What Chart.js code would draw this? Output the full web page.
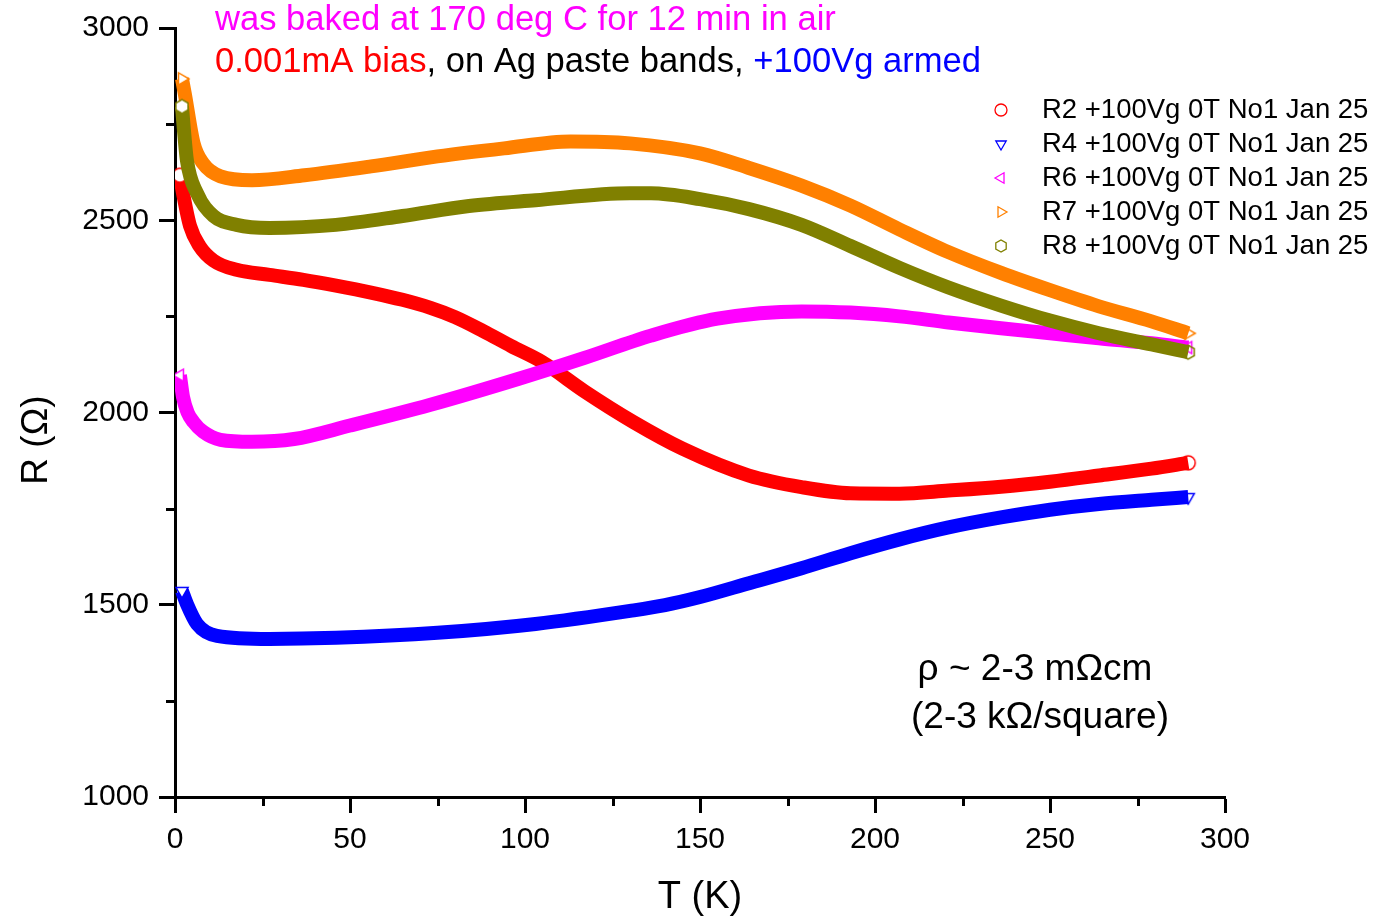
<!DOCTYPE html>
<html>
<head>
<meta charset="utf-8">
<script src="https://cdn.jsdelivr.net/npm/chart.js@4.4.1/dist/chart.umd.min.js"></script>
<style>
  html, body { margin: 0; background: #fff; }
  canvas { display: block; }
</style>
</head>
<body>
<canvas id="rt" width="1378" height="920"></canvas>
<script>
// values (T in K, R in ohm)
const labels = [
  'R2 +100Vg 0T No1 Jan 25',
  'R4 +100Vg 0T No1 Jan 25',
  'R6 +100Vg 0T No1 Jan 25',
  'R7 +100Vg 0T No1 Jan 25',
  'R8 +100Vg 0T No1 Jan 25'
];

const tR2 = [1.4, 2.3, 4.3, 7, 11, 17.6, 27, 36.7, 46, 56, 65, 73, 80, 88, 96, 105, 117, 131, 145, 164, 179, 193, 207, 221, 236, 250, 264, 279, 289.5];
const rR2 = [2617, 2570, 2485, 2433, 2395, 2371, 2358, 2345, 2330, 2312, 2293, 2272, 2248, 2212, 2173, 2131, 2055, 1975, 1906, 1836, 1806, 1790, 1789, 1797, 1807, 1820, 1836, 1854, 1869];

const tR4 = [2, 3.4, 6.3, 12, 27, 46, 75, 103, 130, 140, 150, 164, 179, 193, 207, 221, 236, 250, 264, 279, 289.5];
const rR4 = [1536, 1502, 1450, 1419, 1411, 1414, 1427, 1450, 1484, 1499, 1520, 1556, 1595, 1634, 1670, 1701, 1727, 1747, 1762, 1773, 1780];

const tR6 = [1.4, 2.3, 3.6, 5.3, 8, 13, 22, 34, 50, 73, 98, 117, 136, 155, 179, 193, 207, 221, 236, 250, 264, 279, 289.5];
const rR6 = [2097, 2040, 2000, 1975, 1950, 1929, 1924, 1931, 1966, 2020, 2087, 2142, 2200, 2244, 2263, 2260, 2250, 2234, 2219, 2206, 2193, 2180, 2169];

const tR7 = [2, 2.8, 5.3, 8, 13, 22, 37, 56, 75, 94, 113, 130, 150, 164, 179, 193, 207, 221, 236, 250, 264, 279, 289.5];
const rR7 = [2868, 2829, 2700, 2648, 2614, 2604, 2617, 2640, 2666, 2687, 2705, 2700, 2674, 2636, 2590, 2538, 2476, 2417, 2363, 2318, 2276, 2237, 2206];

const tR8 = [2, 2.5, 3.4, 6.3, 11, 17.6, 27, 46, 65, 84, 103, 130, 136, 150, 164, 179, 193, 207, 221, 236, 250, 264, 279, 289.5];
const rR8 = [2796, 2740, 2656, 2570, 2511, 2488, 2480, 2488, 2511, 2537, 2552, 2570, 2570, 2555, 2529, 2488, 2433, 2376, 2325, 2278, 2239, 2206, 2177, 2157];

const xTicks = [0, 50, 100, 150, 200, 250, 300];
const xMinor = [25, 75, 125, 175, 225, 275];
const yTicks = [1000, 1500, 2000, 2500, 3000];
const yMinor = [1250, 1750, 2250, 2750];

const FONT = "'Liberation Sans', Arial, Helvetica, sans-serif";
const COLORS = ['#ff0000', '#0000ff', '#ff00ff', '#ff8000', '#808000'];
const MARKERS = ['circle', 'down', 'left', 'right', 'hex'];

function markerPath(ctx, kind, x, y, r) {
  ctx.beginPath();
  if (kind === 'circle') {
    ctx.arc(x, y, r, 0, Math.PI * 2);
  } else if (kind === 'hex') {
    for (let i = 0; i < 6; i++) {
      const a = Math.PI / 2 + i * Math.PI / 3;
      const px = x + r * Math.cos(a), py = y + r * Math.sin(a);
      i ? ctx.lineTo(px, py) : ctx.moveTo(px, py);
    }
    ctx.closePath();
  } else {
    const rot = { down: Math.PI / 2, left: Math.PI, right: 0 }[kind];
    for (let i = 0; i < 3; i++) {
      const a = rot + i * 2 * Math.PI / 3;
      const px = x + r * Math.cos(a), py = y + r * Math.sin(a);
      i ? ctx.lineTo(px, py) : ctx.moveTo(px, py);
    }
    ctx.closePath();
  }
}

// small canvas images used as point styles for the first/last sample
function markerImage(kind, color, fill) {
  const c = document.createElement('canvas');
  c.width = 18; c.height = 18;
  const g = c.getContext('2d');
  g.lineWidth = 1.5;
  g.strokeStyle = color;
  markerPath(g, kind, 9, 9, 7);
  if (fill) { g.fillStyle = fill; g.fill(); }
  g.stroke();
  return c;
}

function mkSet(i, ts, rs) {
  const color = COLORS[i];
  const first = markerImage(MARKERS[i], color, '#fff');
  const last = markerImage(MARKERS[i], color, null);
  return {
    label: labels[i],
    data: ts.map((t, k) => ({ x: t, y: rs[k] })),
    borderColor: color,
    backgroundColor: color,
    borderWidth: 14,
    cubicInterpolationMode: 'monotone',
    pointStyle: ctx => ctx.dataIndex === 0 ? first : last,
    pointRadius: ctx => (ctx.dataIndex === 0 || ctx.dataIndex === ts.length - 1) ? 7 : 0,
    pointHoverRadius: 0,
    order: 5 - i
  };
}

const extras = {
  id: 'extras',
  afterDraw(chart) {
    const { ctx, scales: { x, y } } = chart;
    ctx.save();

    // minor ticks
    ctx.strokeStyle = '#000';
    ctx.lineWidth = 3;
    xMinor.forEach(v => {
      const px = Math.round(x.getPixelForValue(v)) + 0.5;
      ctx.beginPath(); ctx.moveTo(px, y.bottom); ctx.lineTo(px, y.bottom + 9); ctx.stroke();
    });
    yMinor.forEach(v => {
      const py = Math.round(y.getPixelForValue(v)) + 0.5;
      ctx.beginPath(); ctx.moveTo(x.left, py); ctx.lineTo(x.left - 9, py); ctx.stroke();
    });

    // y title
    ctx.save();
    ctx.translate(37, 440);
    ctx.rotate(-Math.PI / 2);
    ctx.font = '37px ' + FONT;
    ctx.fillStyle = '#000';
    ctx.textAlign = 'center';
    ctx.textBaseline = 'middle';
    ctx.fillText('R (\u03A9)', 0, 0);
    ctx.restore();

    // header lines
    ctx.font = '34.6px ' + FONT;
    ctx.textAlign = 'left';
    ctx.textBaseline = 'alphabetic';
    ctx.fillStyle = '#ff00ff';
    ctx.fillText('was baked at 170 deg C for 12 min in air', 215, 30);
    let hx = 215;
    [['0.001mA bias', '#ff0000'], [', on Ag paste bands, ', '#000'], ['+100Vg armed', '#0000ff']].forEach(([txt, col]) => {
      ctx.fillStyle = col;
      ctx.fillText(txt, hx, 72);
      hx += ctx.measureText(txt).width;
    });

    // legend
    ctx.font = '27.5px ' + FONT;
    ctx.textBaseline = 'middle';
    labels.forEach((lab, i) => {
      const ly = 110 + i * 34;
      ctx.lineWidth = 1.3;
      ctx.strokeStyle = COLORS[i];
      markerPath(ctx, MARKERS[i], 1001, ly, 6);
      ctx.stroke();
      ctx.fillStyle = '#000';
      ctx.fillText(lab, 1042, ly);
    });

    // resistivity note
    ctx.font = '37px ' + FONT;
    ctx.textAlign = 'center';
    ctx.fillStyle = '#000';
    ctx.fillText('\u03C1 ~ 2-3 m\u03A9cm', 1035, 670);
    ctx.fillText('(2-3 k\u03A9/square)', 1040, 718);

    ctx.restore();
  }
};

new Chart(document.getElementById('rt'), {
  type: 'line',
  data: {
    datasets: [
      mkSet(0, tR2, rR2),
      mkSet(1, tR4, rR4),
      mkSet(2, tR6, rR6),
      mkSet(3, tR7, rR7),
      mkSet(4, tR8, rR8)
    ]
  },
  options: {
    responsive: false,
    animation: false,
    events: [],
    layout: { padding: { left: 0, top: 24, right: 153, bottom: 0 } },
    plugins: { legend: { display: false }, tooltip: { enabled: false } },
    scales: {
      x: {
        type: 'linear',
        min: 0, max: 300,
        afterBuildTicks: s => { s.ticks = xTicks.map(v => ({ value: v })); },
        afterFit: s => { s.height = 123; },
        border: { display: true, width: 3, color: '#000' },
        grid: { drawOnChartArea: false, drawTicks: true, tickLength: 16, tickWidth: 3, tickColor: '#000', color: '#000' },
        ticks: { color: '#000', font: { family: FONT, size: 30 }, padding: 9, maxRotation: 0, callback: v => String(v) },
        title: { display: true, text: 'T (K)', color: '#000', font: { family: FONT, size: 38 }, padding: 0 }
      },
      y: {
        type: 'linear',
        min: 1000, max: 3000,
        afterBuildTicks: s => { s.ticks = yTicks.map(v => ({ value: v })); },
        afterFit: s => { s.width = 175; },
        border: { display: true, width: 3, color: '#000' },
        grid: { drawOnChartArea: false, drawTicks: true, tickLength: 16, tickWidth: 3, tickColor: '#000', color: '#000' },
        ticks: { color: '#000', font: { family: FONT, size: 30 }, padding: 10, callback: v => String(v) }
      }
    }
  },
  plugins: [extras]
});
</script>
</body>
</html>
